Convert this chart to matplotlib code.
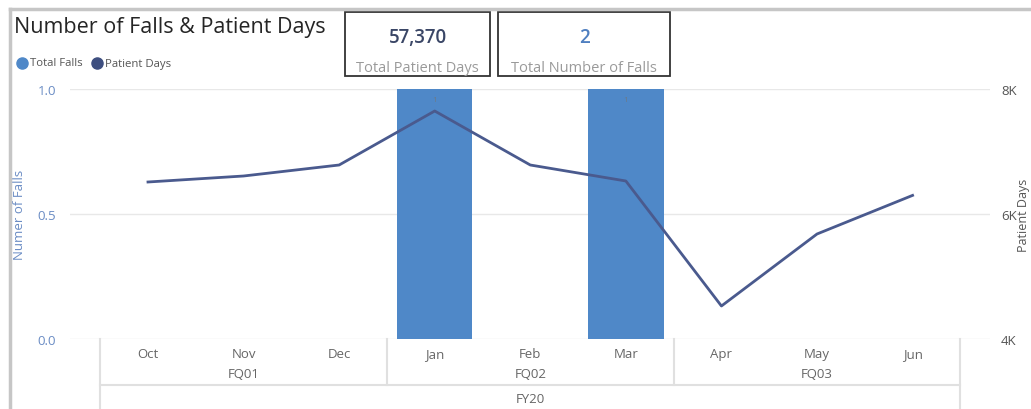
import matplotlib.pyplot as plt
from matplotlib.patches import Rectangle

plt.rcParams['font.family'] = ['Open Sans', 'DejaVu Sans']

months = ['Oct', 'Nov', 'Dec', 'Jan', 'Feb', 'Mar', 'Apr', 'May', 'Jun']
quarters = ['FQ01', 'FQ02', 'FQ03']
year = 'FY20'
total_falls = [0, 0, 0, 1, 0, 1, 0, 0, 0]
patient_days = [6512, 6608, 6784, 7648, 6784, 6528, 4528, 5680, 6298]

W, H = 1031, 410
bar_color = '#4f88c8'
line_color = '#4a5a8e'
grid_color = '#e8e8e8'

fig = plt.figure(figsize=(W / 100, H / 100), dpi=100)

def fx(px):
    return px / W

def fy(py):
    return 1 - py / H

# panel border
fig.add_artist(plt.Line2D([fx(10), fx(10)], [fy(10), 0], color='#c6c6c6', lw=2.5))
fig.add_artist(plt.Line2D([fx(10), 1], [fy(10), fy(10)], color='#c6c6c6', lw=2.5))

ax = fig.add_axes([fx(70), fy(340), fx(990) - fx(70), fy(90) - fy(340)])
x = list(range(len(months)))
bars = ax.bar(x, total_falls, width=0.79, color=bar_color, zorder=2)
for xi, v in zip(x, total_falls):
    if v > 0:
        ax.text(xi, v - 0.03, str(v), ha='center', va='top', fontsize=6, color='#6a7a8a')
ax.set_ylim(0, 1)
ax.set_xlim(-0.816, 8.81)
ax.set_yticks([0, 0.5, 1.0])
ax.set_yticklabels(['0.0', '0.5', '1.0'])
ax.tick_params(axis='y', length=0, pad=10, labelsize=9.5, labelcolor='#6a8cc4')
ax.tick_params(axis='x', length=0, labelbottom=False)
ax.grid(axis='y', color=grid_color, lw=1, zorder=0)
ax.set_axisbelow(True)
for s in ax.spines.values():
    s.set_visible(False)
ax.set_ylabel('Numer of Falls', color='#6a8cc4', fontsize=9.5, labelpad=8)

ax2 = ax.twinx()
ax2.plot(x, patient_days, color=line_color, lw=2, zorder=3)
ax2.set_ylim(4000, 8000)
ax2.set_yticks([4000, 6000, 8000])
ax2.set_yticklabels(['4K', '6K', '8K'])
ax2.tick_params(axis='y', length=0, pad=8, labelsize=9.5, labelcolor='#555555')
for s in ax2.spines.values():
    s.set_visible(False)
fig.text(fx(1024), fy(215), 'Patient Days', rotation=90, ha='center', va='center',
         fontsize=9, color='#555555')

# hierarchical category axis
tr = ax.get_xaxis_transform()
def ay(py):
    return (340 - py) / 250

for xi, m in zip(x, months):
    ax.text(xi, ay(355), m, transform=tr, ha='center', va='center', fontsize=9.5, color='#666666')
for qi, q in enumerate(quarters):
    ax.text(qi * 3 + 1, ay(375), q, transform=tr, ha='center', va='center', fontsize=9.5, color='#666666')
ax.text(4, ay(400), year, transform=tr, ha='center', va='center', fontsize=9.5, color='#666666')

sep = '#e0e0e0'
ax.plot([-0.5, 8.5], [ay(386), ay(386)], transform=tr, color=sep, lw=1.5, clip_on=False)
for b in [-0.5, 8.5]:
    ax.plot([b, b], [0, ay(410)], transform=tr, color=sep, lw=1.5, clip_on=False)
for b in [2.5, 5.5]:
    ax.plot([b, b], [0, ay(386)], transform=tr, color=sep, lw=1.5, clip_on=False)

# title and legend
fig.text(fx(14), fy(28), 'Number of Falls & Patient Days', fontsize=15.5, color='#252525',
         ha='left', va='center')
fig.add_artist(plt.Line2D([fx(22)], [fy(64)], marker='o', ms=8, color=bar_color, lw=0))
fig.text(fx(30), fy(64), 'Total Falls', fontsize=8.2, color='#555555', va='center')
fig.add_artist(plt.Line2D([fx(97)], [fy(64)], marker='o', ms=8, color='#3e4f80', lw=0))
fig.text(fx(105), fy(64), 'Patient Days', fontsize=8.2, color='#555555', va='center')

# KPI cards
cards = [(345, 490, '57,370', '#3a4666', 'Total Patient Days'),
         (498, 670, '2', '#4f7fc0', 'Total Number of Falls')]
for x0, x1, val, vcol, lab in cards:
    fig.add_artist(Rectangle((fx(x0), fy(77)), fx(x1) - fx(x0), fy(13) - fy(77),
                             transform=fig.transFigure, fill=True, facecolor='white',
                             edgecolor='#333333', lw=1.3))
    fig.text(fx((x0 + x1) / 2), fy(38), val, ha='center', va='center', fontsize=13.5,
             color=vcol, fontweight='semibold')
    fig.text(fx((x0 + x1) / 2), fy(68), lab, ha='center', va='center', fontsize=10.5,
             color='#9a9a9a')

fig.savefig('out.png', dpi=100)
